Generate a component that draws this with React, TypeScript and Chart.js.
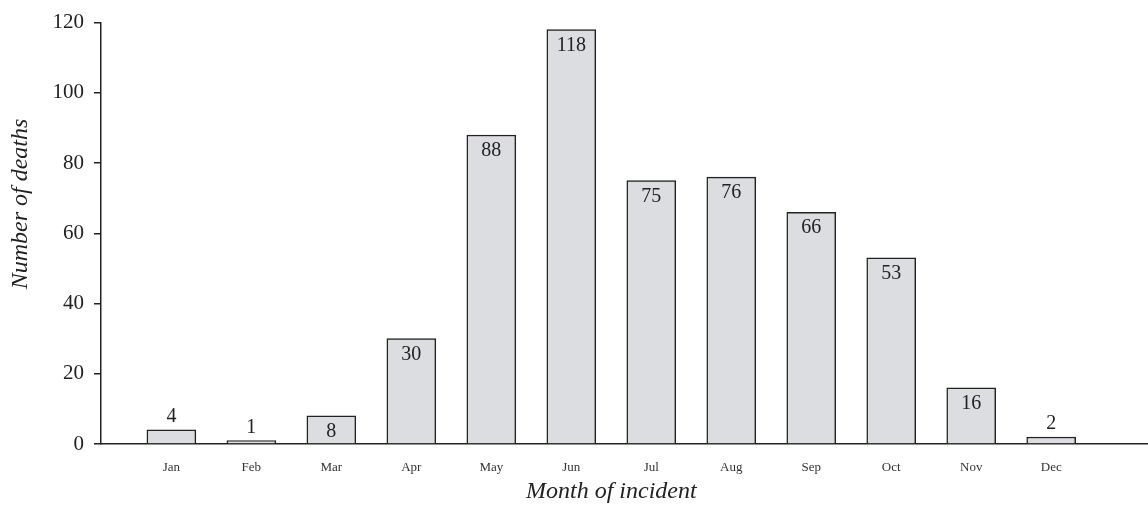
import React, { useEffect, useRef } from "react";
import { Chart, registerables } from "chart.js";

Chart.register(...registerables);

const months = ["Jan", "Feb", "Mar", "Apr", "May", "Jun", "Jul", "Aug", "Sep", "Oct", "Nov", "Dec"];
const deaths = [4, 1, 8, 30, 88, 118, 75, 76, 66, 53, 16, 2];
const yTicks = [0, 20, 40, 60, 80, 100, 120];
const xTitle = "Month of incident";
const yTitle = "Number of deaths";

const FONT = "'Liberation Serif', 'DejaVu Serif', serif";

const labelPlugin = {
  id: "barLabels",
  afterDatasetsDraw(chart: any) {
    const ctx = chart.ctx;
    const meta = chart.getDatasetMeta(0);
    ctx.save();
    ctx.fillStyle = "#222";
    ctx.font = `20px ${FONT}`;
    ctx.textAlign = "center";
    ctx.textBaseline = "middle";
    meta.data.forEach((bar: any, i: number) => {
      const v = deaths[i];
      const y = v < 5 ? bar.y - 13 : bar.y + 16;
      ctx.fillText(String(v), bar.x, y);
    });
    ctx.restore();
  },
};

const titlePlugin = {
  id: "axisTitles",
  afterDraw(chart: any) {
    const ctx = chart.ctx;
    const meta = chart.getDatasetMeta(0);
    const first = meta.data[0];
    const last = meta.data[meta.data.length - 1];
    ctx.save();
    ctx.fillStyle = "#222";
    ctx.font = `italic 24px ${FONT}`;
    ctx.textAlign = "center";
    ctx.textBaseline = "middle";
    ctx.fillText(xTitle, (first.x + last.x) / 2, 492);
    ctx.translate(21, 204);
    ctx.rotate(-Math.PI / 2);
    ctx.fillText(yTitle, 0, 0);
    ctx.restore();
  },
};

export default function App() {
  const ref = useRef<HTMLCanvasElement>(null);
  useEffect(() => {
    document.body.style.margin = "0";
    const chart = new Chart(ref.current!, {
      type: "bar",
      data: {
        datasets: [
          {
            data: deaths.map((v, i) => ({ x: i, y: v })),
            backgroundColor: "#dcdde0",
            borderColor: "#222",
            borderWidth: 1.5,
            barThickness: 49,
          },
        ],
      },
      options: {
        animation: false,
        responsive: false,
        layout: { padding: { top: 21, right: 0, left: 0, bottom: 0 } },
        plugins: { legend: { display: false }, tooltip: { enabled: false } },
        scales: {
          x: {
            type: "linear",
            min: -0.88,
            max: 12.21,
            offset: false,
            grid: { display: false, drawTicks: false },
            border: { display: true, color: "#222", width: 1.5 },
            ticks: {
              includeBounds: false,
              stepSize: 1,
              autoSkip: false,
              maxRotation: 0,
              padding: 16,
              color: "#333",
              font: { family: FONT, size: 13 },
              callback: (v: any) => (Number.isInteger(v) && v >= 0 && v < months.length ? months[v] : ""),
            },
            afterFit: (s: any) => {
              s.height = 64;
            },
          },
          y: {
            min: 0,
            max: 120,
            afterBuildTicks: (s: any) => {
              s.ticks = yTicks.map((v) => ({ value: v }));
            },
            grid: { drawOnChartArea: false, drawTicks: true, tickLength: 7, color: "#222", lineWidth: 1.5 },
            border: { display: true, color: "#222", width: 1.5 },
            ticks: {
              padding: 10,
              color: "#222",
              font: { family: FONT, size: 21 },
            },
            afterFit: (s: any) => {
              s.width = 101;
            },
          },
        },
      },
      plugins: [labelPlugin, titlePlugin],
    });
    return () => chart.destroy();
  }, []);
  return (
    <div style={{ width: 1148, height: 508 }}>
      <canvas ref={ref} width={1148} height={508} />
    </div>
  );
}
